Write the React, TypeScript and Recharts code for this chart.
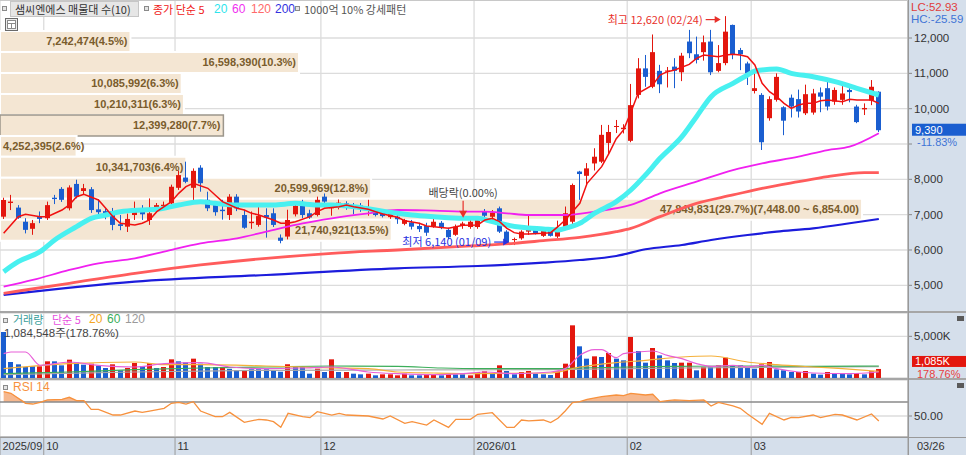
import React from "react";
import {
  Area,
  Bar,
  CartesianGrid,
  ComposedChart,
  Line,
  ReferenceArea,
  ReferenceDot,
  ReferenceLine,
  XAxis,
  YAxis,
} from "recharts";

const FONT = '"Noto Sans CJK KR", "Noto Sans", sans-serif';
const NUM_FONT = '"Liberation Sans", Arial, sans-serif';
const RED = "#e3170e";
const BLUE = "#1a5ed0";
const ANNO_RED = "#e8302a";
const ANNO_BLUE = "#2a32e0";
const PANEL_BG = "#d5dfeb";
const GRID = "#dcdcdc";
const BIN_FILL = "#f4e6d3";
const BIN_TEXT = "#7a5c2c";

// daily candles, 2025/09/23 .. 2026/03/26
const OPEN = [
  6943, 7330, 7200, 6800, 6600, 6940, 6900, 7480, 7730, 7180,
  7870, 7670, 7720, 7150, 7100, 7100, 6730, 6660, 6990, 7100,
  6850, 7180, 7240, 7320, 7760, 8050, 7760, 8330, 7420, 7270,
  7140, 6990, 7510, 6990, 6760, 6710, 6990, 7040, 6350, 6380,
  7010, 7350, 7040, 6990, 7510, 7180, 7230, 7320, 7270, 7260,
  7160, 7130, 7060, 6930, 6940, 6740, 6780, 6680, 6680, 6660,
  6770, 6570, 6430, 6680, 6650, 6650, 7090, 6940, 7180, 6520,
  6300, 6330, 6520, 6570, 6400, 6570, 6380, 6660, 6800, 8220,
  8100, 8450, 8500, 9030, 9500, 9420, 9090, 10390, 11140, 10620,
  11070, 11050, 11190, 11030, 11900, 11540, 11600, 11900, 11070, 11290,
  12370, 11660, 11280, 10500, 10390, 9730, 10250, 10040, 10310, 10270,
  9870, 9890, 10460, 10580, 10200, 10250, 10530, 10060, 9980, 10230,
  10480,
];
const HIGH = [
  7480, 7560, 7270, 6900, 6850, 7090, 7370, 7560, 7780, 7830,
  7990, 7870, 7780, 7440, 7170, 7190, 6990, 7030, 7370, 7270,
  7460, 7330, 7370, 7850, 8250, 8500, 8310, 8400, 7650, 7370,
  7420, 7580, 7580, 7140, 7090, 7230, 7180, 7180, 6440, 7140,
  7350, 7420, 7140, 7510, 7600, 7280, 7430, 7380, 7330, 7330,
  7420, 7160, 7110, 7060, 7000, 6880, 6850, 6770, 6770, 6880,
  6820, 6630, 6720, 6800, 6900, 6960, 7160, 7130, 7230, 6560,
  6350, 6560, 7000, 6650, 6600, 6610, 6830, 7230, 7880, 8240,
  8460, 8880, 9540, 9540, 9680, 9560, 10700, 11430, 11520, 12100,
  11240, 11180, 11430, 11580, 12230, 12040, 12070, 12230, 11800, 12620,
  12380, 11720, 11330, 11100, 10440, 10350, 11000, 10070, 10400, 10540,
  10680, 10560, 10600, 10860, 10600, 10720, 10580, 10110, 10150, 10810,
  10490,
];
const LOW = [
  6878, 7130, 6880, 6470, 6430, 6760, 6850, 7300, 7360, 7120,
  7460, 7560, 7050, 6940, 6870, 6560, 6560, 6510, 6850, 6850,
  6710, 7100, 7150, 7190, 7700, 7890, 7370, 7650, 7100, 6970,
  6860, 6850, 7100, 6600, 6600, 6660, 6350, 6650, 6190, 6300,
  6950, 6900, 6880, 6950, 7330, 6970, 7150, 7140, 7010, 7080,
  6970, 6950, 6920, 6880, 6740, 6700, 6580, 6510, 6400, 6630,
  6590, 6310, 6400, 6600, 6600, 6600, 6930, 6760, 6480, 6150,
  6140, 6290, 6430, 6440, 6370, 6380, 6340, 6600, 6720, 7420,
  7840, 8250, 8460, 8690, 9310, 9300, 9050, 10290, 10620, 10580,
  10440, 10600, 10580, 10780, 11430, 11280, 11360, 10950, 11030, 11230,
  11400, 11090, 10670, 10430, 8830, 9660, 10200, 9250, 9750, 9750,
  9820, 9830, 9900, 9950, 10110, 10110, 10180, 9590, 9820, 10100,
  9340,
];
const CLOSE = [
  7415, 7370, 6910, 6570, 6760, 6880, 7270, 7440, 7420, 7770,
  7510, 7750, 7130, 7070, 7010, 6710, 6680, 6880, 7080, 7010,
  7040, 7270, 7280, 7790, 8120, 7930, 8240, 7890, 7180, 7070,
  7100, 7510, 7180, 6630, 6800, 6960, 6920, 6710, 6260, 6850,
  7250, 6990, 6920, 7420, 7370, 7230, 7340, 7210, 7180, 7180,
  7180, 6990, 6960, 7040, 6870, 6850, 6660, 6590, 6490, 6800,
  6640, 6360, 6660, 6750, 6800, 6930, 6970, 7060, 6520, 6180,
  6310, 6520, 6600, 6480, 6540, 6400, 6600, 7040, 7840, 8150,
  8310, 8640, 9260, 9340, 9510, 9460, 10100, 11140, 10900, 11600,
  10690, 11080, 11070, 11500, 11570, 11380, 11880, 11030, 11290, 12180,
  11520, 11540, 11000, 10580, 9050, 10270, 10900, 9660, 10060, 9920,
  10410, 10430, 10340, 10060, 10530, 10430, 10470, 9620, 10020, 10620,
  9390,
];

// volume in thousands of shares, and bar colour (1 = red, 0 = blue)
const VOLUME_K = [
  5520, 1920, 1640, 1320, 1400, 1400, 2000, 2000, 1520, 2200,
  1840, 1600, 1720, 1480, 1200, 1640, 920, 1200, 1800, 1440,
  1800, 1200, 1320, 2240, 2000, 1880, 2320, 1720, 1320, 1320,
  1320, 1100, 950, 950, 1050, 1050, 1050, 900, 750, 1650,
  1320, 1320, 520, 1120, 720, 2240, 720, 720, 520, 440,
  520, 320, 440, 440, 320, 520, 320, 320, 440, 440,
  320, 520, 440, 440, 320, 720, 800, 520, 1520, 840,
  440, 720, 840, 520, 440, 360, 800, 1720, 6320, 3800,
  2320, 2600, 2520, 3000, 2320, 2120, 4920, 3240, 1840, 3600,
  2720, 2120, 1800, 1840, 1840, 920, 1320, 1400, 1520, 2440,
  1520, 1520, 1200, 1120, 1640, 1920, 1040, 920, 720, 720,
  840, 520, 400, 720, 600, 600, 440, 600, 440, 800,
  1085,
];
const VOLUME_UP = [
  0, 0, 0, 0, 0, 1, 1, 0, 0, 1,
  0, 0, 1, 0, 0, 1, 0, 1, 1, 0,
  1, 0, 1, 1, 0, 0, 1, 0, 0, 0,
  1, 0, 0, 1, 0, 0, 0, 0, 0, 1,
  0, 0, 0, 1, 0, 1, 0, 1, 0, 0,
  1, 0, 1, 1, 1, 1, 0, 0, 1, 1,
  0, 1, 0, 0, 1, 1, 1, 0, 1, 0,
  0, 1, 1, 0, 0, 0, 1, 1, 1, 0,
  0, 1, 0, 1, 0, 0, 1, 0, 0, 1,
  0, 0, 0, 1, 1, 0, 1, 0, 1, 1,
  0, 0, 0, 0, 1, 1, 0, 0, 0, 1,
  1, 0, 0, 1, 0, 0, 0, 1, 0, 1,
  1,
];

// price moving averages, read as [candle index, value]
const MA5 = [
  [0, 6473], [2, 6943], [3, 7010], [5, 6943], [6, 6943], [8, 7132], [9, 7274], [10, 7509],
  [11, 7576], [13, 7415], [14, 7180], [15, 6943], [16, 6756], [18, 6708], [19, 6756], [20, 6850],
  [21, 7085], [23, 7368], [24, 7604], [25, 7792], [26, 7887], [28, 7746], [29, 7557], [30, 7368],
  [32, 7180], [33, 7132], [34, 7038], [35, 6990], [37, 6850], [38, 6756], [39, 6756], [40, 6802],
  [42, 6943], [43, 7085], [44, 7180], [46, 7226], [47, 7274], [48, 7226], [50, 7152], [51, 7085],
  [52, 7019], [54, 6925], [55, 6830], [57, 6756], [58, 6680], [59, 6660], [61, 6614], [62, 6660],
  [63, 6700], [65, 6708], [66, 6850], [67, 6897], [68, 6802], [69, 6614], [70, 6491], [71, 6453],
  [72, 6453], [74, 6473], [75, 6491], [76, 6660], [77, 6850], [79, 7322], [80, 7888], [82, 8358],
  [83, 8737], [84, 9150], [85, 9400], [86, 9900], [87, 10435], [89, 10670], [90, 10953], [91, 11047],
  [92, 11094], [94, 11255], [95, 11425], [96, 11519], [98, 11472], [99, 11519], [100, 11538], [101, 11519],
  [102, 11472], [103, 11236], [104, 10717], [105, 10481], [106, 10339], [107, 10151], [108, 10010], [109, 10104],
  [110, 10151], [111, 10151], [112, 10226], [113, 10246], [115, 10198], [116, 10265], [117, 10246], [118, 10246],
  [119, 10246], [120, 10151],
];
const MA20 = [
  [0, 5387], [2, 5670], [5, 5953], [7, 6283], [10, 6660], [12, 6897], [14, 6990], [16, 7085],
  [19, 7132], [21, 7151], [24, 7274], [27, 7368], [29, 7320], [32, 7274], [34, 7274], [37, 7274],
  [40, 7320], [43, 7274], [45, 7274], [48, 7226], [51, 7132], [54, 7038], [56, 6990], [59, 6943],
  [63, 6897], [65, 6897], [67, 6802], [69, 6708], [71, 6642], [74, 6595], [76, 6567], [77, 6614],
  [79, 6756], [81, 7038], [84, 7368], [86, 7698], [88, 8123], [90, 8595], [93, 9207], [95, 9773],
  [97, 10339], [100, 10717], [102, 10953], [103, 11066], [106, 11123], [108, 11000], [111, 10905], [114, 10764],
  [117, 10577], [120, 10387],
];
const MA60 = [
  [0, 4962], [4, 5151], [9, 5434], [13, 5623], [18, 5765], [22, 5953], [27, 6189], [32, 6331],
  [36, 6518], [41, 6755], [45, 6897], [50, 7038], [54, 7132], [59, 7113], [64, 7085], [66, 7085],
  [69, 7038], [72, 6990], [77, 6990], [81, 7085], [86, 7274], [90, 7604], [95, 7934], [100, 8264],
  [104, 8453], [109, 8641], [113, 8830], [116, 8924], [120, 9303],
];
const MA120 = [
  [0, 4775], [9, 5058], [18, 5340], [27, 5576], [36, 5765], [45, 5907], [54, 6000], [64, 6114],
  [70, 6189], [74, 6264], [79, 6360], [84, 6519], [86, 6614], [90, 6943], [95, 7320], [100, 7557],
  [104, 7746], [109, 7934], [113, 8075], [118, 8188], [120, 8188],
];
const MA200 = [
  [0, 4727], [18, 5104], [36, 5293], [54, 5482], [65, 5547], [74, 5641], [79, 5717], [84, 5830],
  [88, 6020], [93, 6142], [97, 6283], [102, 6425], [106, 6519], [111, 6614], [116, 6756], [120, 6878],
];

// volume moving averages (thousands), [candle index, value]
const VMA5 = [
  [0, 2920], [1, 3120], [3, 3120], [5, 1520], [9, 1920], [13, 1520], [18, 1320], [22, 1720],
  [27, 1840], [31, 1320], [36, 1120], [41, 1200], [45, 1320], [50, 720], [54, 520], [59, 400],
  [63, 520], [66, 720], [70, 520], [75, 720], [77, 1120], [79, 2720], [81, 3400], [82, 3400],
  [84, 2440], [85, 2920], [87, 3120], [89, 3240], [91, 2720], [93, 2320], [95, 1720], [97, 1400],
  [100, 1520], [102, 1320], [104, 1520], [106, 1120], [109, 720], [111, 600], [116, 520], [120, 720],
];
const VMA20 = [
  [0, 1120], [9, 1720], [18, 1920], [22, 1600], [27, 1600], [36, 1440], [45, 1200], [50, 1120],
  [54, 720], [59, 600], [65, 520], [75, 600], [79, 1320], [84, 1840], [88, 2120], [93, 2520],
  [97, 2640], [102, 1920], [106, 1600], [111, 1320], [115, 1120], [120, 800],
];
const VMA60 = [
  [0, 520], [9, 720], [18, 1000], [27, 1200], [36, 1320], [45, 1440], [54, 1400], [60, 1200],
  [65, 1120], [75, 1120], [79, 1200], [86, 1320], [93, 1400], [102, 1440], [111, 1400], [120, 1440],
];
const VMA120 = [
  [0, 400], [18, 720], [36, 920], [54, 960], [75, 1000], [93, 1200], [120, 1360],
];

// RSI 14, [candle index, value]
const RSI = [
  [0, 84.7], [1, 82.4], [3, 68.1], [4, 67.1], [5, 69.5], [6, 72.9], [8, 73.8], [9, 76.7],
  [10, 71.9], [11, 71.9], [12, 59.5], [13, 59.5], [15, 51.4], [16, 51.4], [18, 57.1], [19, 55.2],
  [20, 57.1], [22, 61], [23, 68.1], [24, 69.5], [25, 67.1], [26, 70.5], [27, 57.1], [29, 49],
  [30, 49], [31, 55.2], [33, 41], [35, 45.2], [36, 44.3], [37, 41.9], [38, 33.8], [39, 53.8],
  [41, 49], [42, 47.6], [43, 56.2], [44, 53.8], [45, 51.4], [46, 53.8], [47, 51.4], [50, 50],
  [52, 45.7], [53, 50], [55, 39.5], [56, 41.9], [58, 37.1], [59, 44.3], [61, 33.8], [62, 45.2],
  [64, 45.2], [65, 52.4], [67, 54.7], [69, 33.8], [70, 33.8], [71, 44.3], [72, 42.9], [74, 44.3],
  [75, 40.5], [76, 46.7], [77, 57.1], [78, 69], [79, 70.5], [80, 73.8], [82, 77.6], [84, 80],
  [85, 79], [86, 82.4], [88, 80], [89, 81], [90, 70.5], [91, 71.9], [92, 72.9], [94, 71.9],
  [96, 72.9], [97, 64.3], [98, 69.5], [100, 64.3], [101, 61], [102, 52.9], [104, 38.1], [105, 53.8],
  [107, 44.3], [108, 48.1], [109, 47.6], [111, 51.4], [112, 47.6], [114, 52.4], [115, 51.4], [117, 44.3],
  [119, 52.9], [120, 42.9],
];

// volume profile (매물대), 10 bins from the top
const BIN_EDGES = [12200, 11606, 11012, 10418, 9824, 9230, 8636, 8042, 7448, 6854, 6260];
const BIN_VOLUME = [7242474, 16598390, 10085992, 10210311, 12399280, 4252395, 10341703, 20599969, 47849831, 21740921];
const BIN_PCT = [4.5, 10.3, 6.3, 6.3, 7.7, 2.6, 6.4, 12.8, 29.7, 13.5];
// volume that would fill the whole plot width
const VP_FULL_WIDTH = 50400000;

const MONTH_TICKS = [-0.5, 5.5, 23.5, 43.5, 64.5, 85.5, 102.5, 124];
const MONTH_LABELS = ["2025/09", "10", "11", "12", "2026/01", "02", "03", "03/26"];
const PRICE_TICKS = [5000, 6000, 7000, 8000, 9000, 10000, 11000, 12000];
const HIDDEN_PRICE_TICK = 9000;

const HIGH_DATE = "02/24";
const LOW_DATE = "01/09";
const EX_DIV_INDEX = 63;
const EX_DIV_TEXT = "배당락(0.00%)";
const LAST_CHANGE = "-11.83%";
const LAST_VOLUME = 1084548;
const LAST_VOLUME_RATIO = "178.76%";

const X_DOMAIN = [-0.5, 124];
const PRICE_DOMAIN = [4245, 13076];
const VOL_DOMAIN = [0, 7800];
const RSI_DOMAIN = [20, 101.4];

const W = 966;
const AXIS_W = 58;

const fmt = (v: number) => v.toLocaleString("en-US");
const pts = (arr: number[][]) => arr.map(([i, v]) => ({ i, v }));

const candles = OPEN.map((o, i) => ({ i, o, h: HIGH[i], l: LOW[i], c: CLOSE[i] }));
const volumes = VOLUME_K.map((v, i) => ({ i, v, up: VOLUME_UP[i] === 1 }));
const rsi = pts(RSI);
const last = candles.length - 1;
const highIdx = HIGH.indexOf(Math.max(...HIGH));
const lowIdx = LOW.indexOf(Math.min(...LOW));
const maxBin = BIN_VOLUME.indexOf(Math.max(...BIN_VOLUME));
const xSpan = X_DOMAIN[1] - X_DOMAIN[0];
const bins = BIN_VOLUME.map((vol, k) => {
  const hi = BIN_EDGES[k];
  const lo = BIN_EDGES[k + 1];
  const two = (n: number) => n.toLocaleString("en-US", { minimumFractionDigits: 2 });
  let text = `${fmt(vol)}(${BIN_PCT[k].toFixed(1)}%)`;
  if (k === maxBin) text += `(${two(hi)} ~ ${two(lo)})`;
  const current = CLOSE[last] >= lo && CLOSE[last] < hi;
  // horizontal bar length expressed in x-axis units
  const end = X_DOMAIN[0] + (vol / VP_FULL_WIDTH) * xSpan;
  return { end, hi, lo, text, current };
});

const Candle = (p: any) => {
  const { x, y, width, height, payload } = p;
  if (!payload || x == null || y == null) return null;
  const { o, h, l, c } = payload;
  const color = c >= o ? RED : BLUE;
  const top0 = height < 0 ? y + height : y;
  const hgt = Math.abs(height);
  const k = h > l ? hgt / (h - l) : 0;
  const top = top0 + (h - Math.max(o, c)) * k;
  const bot = top0 + (h - Math.min(o, c)) * k;
  const left = Math.round(x);
  const w = Math.round(width);
  const cx = left + Math.floor(w / 2) + 0.5;
  return (
    <g>
      <line x1={cx} x2={cx} y1={top0} y2={top0 + hgt} stroke={color} strokeWidth={1} />
      <rect x={left} y={top} width={w} height={Math.max(1, bot - top)} fill={color} />
    </g>
  );
};

const VolBar = (p: any) => {
  const { x, y, width, height, payload } = p;
  if (!payload || x == null) return null;
  const top = height < 0 ? y + height : y;
  return <rect x={Math.round(x)} y={top} width={Math.round(width)} height={Math.abs(height)} fill={payload.up ? RED : BLUE} />;
};

const PointerLabel = ({ viewBox, text, color, dy }: any) => {
  if (!viewBox) return null;
  const x = viewBox.x + (viewBox.width || 0) / 2;
  const y = viewBox.y + (viewBox.height || 0) / 2 + dy;
  return (
    <g>
      <text x={x - 23} y={y + 4} textAnchor="end" fill={color} fontSize={11} fontFamily={FONT}>
        {text}
      </text>
      <line x1={x - 20} x2={x - 9} y1={y} y2={y} stroke={color} strokeWidth={1.2} />
      <path d={`M${x - 5},${y} L${x - 11},${y - 3.5} L${x - 11},${y + 3.5} Z`} fill={color} />
    </g>
  );
};

const ExDivLabel = ({ viewBox }: any) => {
  if (!viewBox) return null;
  const x = viewBox.x + (viewBox.width || 0) / 2;
  const y = viewBox.y + (viewBox.height || 0) / 2;
  return (
    <g>
      <text x={x} y={y - 25} textAnchor="middle" fill="#444" fontSize={11} fontFamily={FONT}>
        {EX_DIV_TEXT}
      </text>
      <line x1={x} x2={x} y1={y - 21} y2={y - 10} stroke={ANNO_RED} strokeWidth={1.2} />
      <path d={`M${x - 4},${y - 11} L${x + 4},${y - 11} L${x},${y - 4} Z`} fill={ANNO_RED} />
    </g>
  );
};

// right-aligned inside the bar, or left-aligned when the bar is too short for it
const BinLabel = ({ viewBox, text }: any) => {
  if (!viewBox) return null;
  const fits = viewBox.width - 6 > text.length * 5.9;
  const x = fits ? viewBox.x + viewBox.width - 3 : viewBox.x + 3;
  const y = viewBox.y + viewBox.height / 2;
  return (
    <text x={x} y={y + 4} textAnchor={fits ? "end" : "start"} fill={BIN_TEXT} fontSize={11} fontFamily={NUM_FONT} fontWeight={700}>
      {text}
    </text>
  );
};

const PriceBadge = ({ viewBox }: any) => {
  if (!viewBox) return null;
  const x = viewBox.x + viewBox.width;
  const y = viewBox.y;
  return (
    <g>
      <rect x={x + 4} y={y - 6.5} width={AXIS_W - 4} height={12} fill={BLUE} />
      <text x={x + 7} y={y + 3.5} fill="#fff" fontSize={11} fontFamily={NUM_FONT}>
        {fmt(CLOSE[last])}
      </text>
      <text x={x + 9} y={y + 16} fill="#3f74d6" fontSize={11} fontFamily={NUM_FONT}>
        {LAST_CHANGE}
      </text>
    </g>
  );
};

const VolBadge = ({ viewBox }: any) => {
  if (!viewBox) return null;
  const x = viewBox.x + viewBox.width;
  const y = viewBox.y;
  return (
    <g>
      <rect x={x + 4} y={y - 13} width={AXIS_W - 4} height={11} fill={RED} />
      <text x={x + 7} y={y - 3.5} fill="#fff" fontSize={11} fontFamily={NUM_FONT}>
        {`${fmt(VOLUME_K[last])}K`}
      </text>
      <text x={x + 9} y={y + 9} fill="#e84040" fontSize={11} fontFamily={NUM_FONT}>
        {LAST_VOLUME_RATIO}
      </text>
    </g>
  );
};

const AxisTick = ({ x, y, payload, fmtFn, hidden }: any) => {
  if (payload.value === hidden) return <g />;
  return (
    <text x={x} y={y} dy={4} fill="#333" fontSize={11.5} fontFamily={NUM_FONT} textAnchor="start">
      {fmtFn(payload.value)}
    </text>
  );
};

const MonthTick = ({ x, y, payload, index }: any) => {
  const k = MONTH_TICKS.indexOf(payload.value);
  const label = MONTH_LABELS[k >= 0 ? k : index];
  const isLast = k === MONTH_TICKS.length - 1;
  return (
    <g>
      <line x1={x} x2={x} y1={y} y2={y + 18} stroke="#9a9a9a" strokeWidth={1} />
      <text x={x + (isLast ? 9 : 2.5)} y={y + 13} fill="#333" fontSize={11} fontFamily={NUM_FONT}>
        {label}
      </text>
    </g>
  );
};

const Sq = ({ x, y }: { x: number; y: number }) => (
  <div style={{ position: "absolute", left: x, top: y, width: 3, height: 3, border: "1px solid #8a8a8a", background: "#e4e4e4" }} />
);

const T = ({ x, y, color, children, size = 11, font = FONT }: any) => (
  <div style={{ position: "absolute", left: x, top: y, color, fontSize: size, lineHeight: "12px", whiteSpace: "nowrap", fontFamily: font }}>
    {children}
  </div>
);

const xAxisProps = {
  type: "number" as const,
  dataKey: "i",
  domain: X_DOMAIN,
  ticks: MONTH_TICKS,
  interval: 0 as const,
  allowDataOverflow: true,
};

export default function App() {
  return (
    <div style={{ position: "relative", width: W, height: 455, overflow: "hidden", background: "#fff", fontFamily: FONT }}>
      <style>{"body{margin:0}"}</style>
      <div style={{ position: "absolute", left: W - AXIS_W, top: 0, width: AXIS_W, height: 455, background: PANEL_BG }} />
      <div style={{ position: "absolute", left: 0, top: 438, width: W, height: 17, background: PANEL_BG }} />

      {/* price panel */}
      <div style={{ position: "absolute", left: 0, top: 0 }}>
        <ComposedChart width={W} height={312} data={candles} margin={{ top: 0, right: 0, bottom: 0, left: 0 }}>
          <CartesianGrid stroke={GRID} strokeWidth={1.3} />
          <XAxis {...xAxisProps} hide />
          <YAxis
            orientation="right"
            width={AXIS_W}
            type="number"
            domain={PRICE_DOMAIN}
            ticks={PRICE_TICKS}
            interval={0}
            allowDataOverflow
            axisLine={{ stroke: "#999" }}
            tickLine={{ stroke: "#888" }}
            tickSize={4}
            tickMargin={2}
            tick={(p: any) => <AxisTick {...p} fmtFn={fmt} hidden={HIDDEN_PRICE_TICK} />}
          />
          {bins.map((b, k) => (
            <ReferenceArea
              key={k}
              x1={X_DOMAIN[0]}
              x2={b.end}
              y1={b.lo}
              y2={b.hi}
              fill={BIN_FILL}
              fillOpacity={1}
              stroke={b.current ? "#9c968c" : "#fff"}
              strokeWidth={b.current ? 1.5 : 2}
              ifOverflow="visible"
              label={(p: any) => <BinLabel {...p} text={b.text} />}
            />
          ))}
          <Line data={pts(MA200)} dataKey="v" type="monotone" stroke="#1c1cdc" strokeWidth={2.2} dot={false} activeDot={false} isAnimationActive={false} />
          <Line data={pts(MA120)} dataKey="v" type="monotone" stroke="#ff5c5c" strokeWidth={2.8} dot={false} activeDot={false} isAnimationActive={false} />
          <Line data={pts(MA60)} dataKey="v" type="monotone" stroke="#f020f0" strokeWidth={1.8} dot={false} activeDot={false} isAnimationActive={false} />
          <Line data={pts(MA20)} dataKey="v" type="monotone" stroke="#48f0f0" strokeWidth={5} dot={false} activeDot={false} isAnimationActive={false} />
          <Line data={pts(MA5)} dataKey="v" type="linear" stroke="#f01010" strokeWidth={1.5} dot={false} activeDot={false} isAnimationActive={false} />
          <Bar dataKey={(d: any) => [d.l, d.h]} shape={Candle} barSize={5} isAnimationActive={false} />
          <ReferenceDot
            x={highIdx}
            y={HIGH[highIdx]}
            r={1}
            fill="none"
            stroke="none"
            ifOverflow="visible"
            label={(p: any) => <PointerLabel {...p} text={`최고 ${fmt(HIGH[highIdx])} (${HIGH_DATE})`} color={ANNO_RED} dy={3.5} />}
          />
          <ReferenceDot
            x={lowIdx}
            y={LOW[lowIdx]}
            r={1}
            fill="none"
            stroke="none"
            ifOverflow="visible"
            label={(p: any) => <PointerLabel {...p} text={`최저 ${fmt(LOW[lowIdx])} (${LOW_DATE})`} color={ANNO_BLUE} dy={-3} />}
          />
          <ReferenceDot
            x={EX_DIV_INDEX}
            y={HIGH[EX_DIV_INDEX]}
            r={1}
            fill="none"
            stroke="none"
            ifOverflow="visible"
            label={(p: any) => <ExDivLabel {...p} />}
          />
          <ReferenceLine y={CLOSE[last]} stroke="none" ifOverflow="visible" label={(p: any) => <PriceBadge {...p} />} />
        </ComposedChart>
      </div>

      {/* volume panel */}
      <div style={{ position: "absolute", left: 0, top: 313 }}>
        <ComposedChart width={W} height={70} data={volumes} margin={{ top: 0, right: 0, bottom: 5, left: 0 }}>
          <CartesianGrid stroke={GRID} strokeWidth={1.3} />
          <XAxis {...xAxisProps} hide />
          <YAxis
            orientation="right"
            width={AXIS_W}
            type="number"
            domain={VOL_DOMAIN}
            ticks={[5000]}
            interval={0}
            allowDataOverflow
            axisLine={{ stroke: "#999" }}
            tickLine={{ stroke: "#888" }}
            tickSize={4}
            tickMargin={2}
            tick={(p: any) => <AxisTick {...p} fmtFn={(v: number) => `${fmt(v)}K`} />}
          />
          <Bar dataKey="v" shape={VolBar} barSize={5} isAnimationActive={false} />
          <Line data={pts(VMA120)} dataKey="v" type="monotone" stroke="#a8a8a8" strokeWidth={1.2} dot={false} activeDot={false} isAnimationActive={false} />
          <Line data={pts(VMA60)} dataKey="v" type="monotone" stroke="#3cae5a" strokeWidth={1.2} dot={false} activeDot={false} isAnimationActive={false} />
          <Line data={pts(VMA20)} dataKey="v" type="monotone" stroke="#f5b03a" strokeWidth={1.2} dot={false} activeDot={false} isAnimationActive={false} />
          <Line data={pts(VMA5)} dataKey="v" type="monotone" stroke="#e860d8" strokeWidth={1.2} dot={false} activeDot={false} isAnimationActive={false} />
          <ReferenceLine y={VOLUME_K[last]} stroke="none" ifOverflow="visible" label={(p: any) => <VolBadge {...p} />} />
        </ComposedChart>
      </div>

      {/* RSI panel + date axis */}
      <div style={{ position: "absolute", left: 0, top: 380 }}>
        <ComposedChart width={W} height={75} data={rsi} margin={{ top: 0, right: 0, bottom: 0, left: 0 }}>
          <CartesianGrid stroke={GRID} strokeWidth={1.3} />
          <XAxis {...xAxisProps} height={18} tickSize={0} tickMargin={0} axisLine={{ stroke: "#999" }} tick={(p: any) => <MonthTick {...p} />} />
          <YAxis
            orientation="right"
            width={AXIS_W}
            type="number"
            domain={RSI_DOMAIN}
            ticks={[50]}
            interval={0}
            allowDataOverflow
            axisLine={{ stroke: "#999" }}
            tickLine={{ stroke: "#888" }}
            tickSize={4}
            tickMargin={2}
            tick={(p: any) => <AxisTick {...p} fmtFn={(v: number) => v.toFixed(2)} />}
          />
          <Area dataKey={(d: any) => [70, Math.max(70, d.v)]} type="linear" fill="#f6b88e" fillOpacity={1} stroke="none" isAnimationActive={false} activeDot={false} />
          <ReferenceLine y={70} stroke="#8a8a8a" strokeWidth={1.5} />
          <Line dataKey="v" type="linear" stroke="#f7913d" strokeWidth={1.3} dot={false} activeDot={false} isAnimationActive={false} />
        </ComposedChart>
      </div>

      {/* panel borders */}
      <div style={{ position: "absolute", left: 0, top: 0, width: W - AXIS_W, height: 1, background: "#c8c8c8" }} />
      <div style={{ position: "absolute", left: 0, top: 311, width: W, height: 2, background: "#a6a6a6" }} />
      <div style={{ position: "absolute", left: 0, top: 378, width: W, height: 2, background: "#a6a6a6" }} />
      <div style={{ position: "absolute", left: 0, top: 437, width: W, height: 1, background: "#999" }} />
      <div style={{ position: "absolute", left: W - AXIS_W, top: 0, width: 1, height: 455, background: "#999" }} />

      {/* price legend */}
      <Sq x={2} y={6} />
      <div style={{ position: "absolute", left: 10, top: 1, width: 127, height: 14, background: "#e6e6e6", border: "1px solid #c6c6c6" }} />
      <T x={15} y={3} color="#333">샘씨엔에스 매물대 수(10)</T>
      <Sq x={144} y={6} />
      <T x={153} y={3} color="#f02020">종가 단순 5</T>
      <T x={214} y={3} color="#2ee4ec" font={NUM_FONT} size={12}>20</T>
      <T x={232} y={3} color="#f030f0" font={NUM_FONT} size={12}>60</T>
      <T x={251} y={3} color="#ff6a6a" font={NUM_FONT} size={12}>120</T>
      <T x={275} y={3} color="#3232e0" font={NUM_FONT} size={12}>200</T>
      <Sq x={295} y={6} />
      <T x={304} y={3} color="#555">1000억 10% 강세패턴</T>
      <svg style={{ position: "absolute", left: 5, top: 18 }} width={13} height={13}>
        <rect x={0.5} y={0.5} width={12} height={12} fill="#ececec" stroke="#6a6a6a" />
        <rect x={2.5} y={2.5} width={8} height={8} fill="#fff" stroke="#8a8a8a" />
        <line x1={2.5} x2={10.5} y1={5.5} y2={5.5} stroke="#8a8a8a" />
        <line x1={6.5} x2={6.5} y1={5.5} y2={10.5} stroke="#8a8a8a" />
      </svg>
      <T x={911} y={1} color="#e03c3c" font={NUM_FONT} size={11.5}>LC:52.93</T>
      <T x={911} y={13} color="#3f74d6" font={NUM_FONT} size={11.5}>HC:-25.59</T>

      {/* volume legend */}
      <Sq x={3} y={318} />
      <T x={13} y={313} color="#3a9e9a">거래량</T>
      <T x={52} y={313} color="#e850e0">단순 5</T>
      <T x={89} y={313} color="#f5a623" font={NUM_FONT} size={12}>20</T>
      <T x={107} y={313} color="#3cae5a" font={NUM_FONT} size={12}>60</T>
      <T x={125} y={313} color="#9a9a9a" font={NUM_FONT} size={12}>120</T>
      <T x={4} y={327} color="#444" font={`"Liberation Sans", ${FONT}`} size={11.5}>
        {`${fmt(LAST_VOLUME)}주(${LAST_VOLUME_RATIO})`}
      </T>
      <div style={{ position: "absolute", left: 957, top: 316, width: 7, height: 5, background: "#5a5a5a" }} />

      {/* RSI legend */}
      <Sq x={3} y={385} />
      <T x={13} y={381} color="#f7913d" font={NUM_FONT} size={12}>RSI 14</T>
      <div style={{ position: "absolute", left: 957, top: 383, width: 7, height: 5, background: "#5a5a5a" }} />
    </div>
  );
}
